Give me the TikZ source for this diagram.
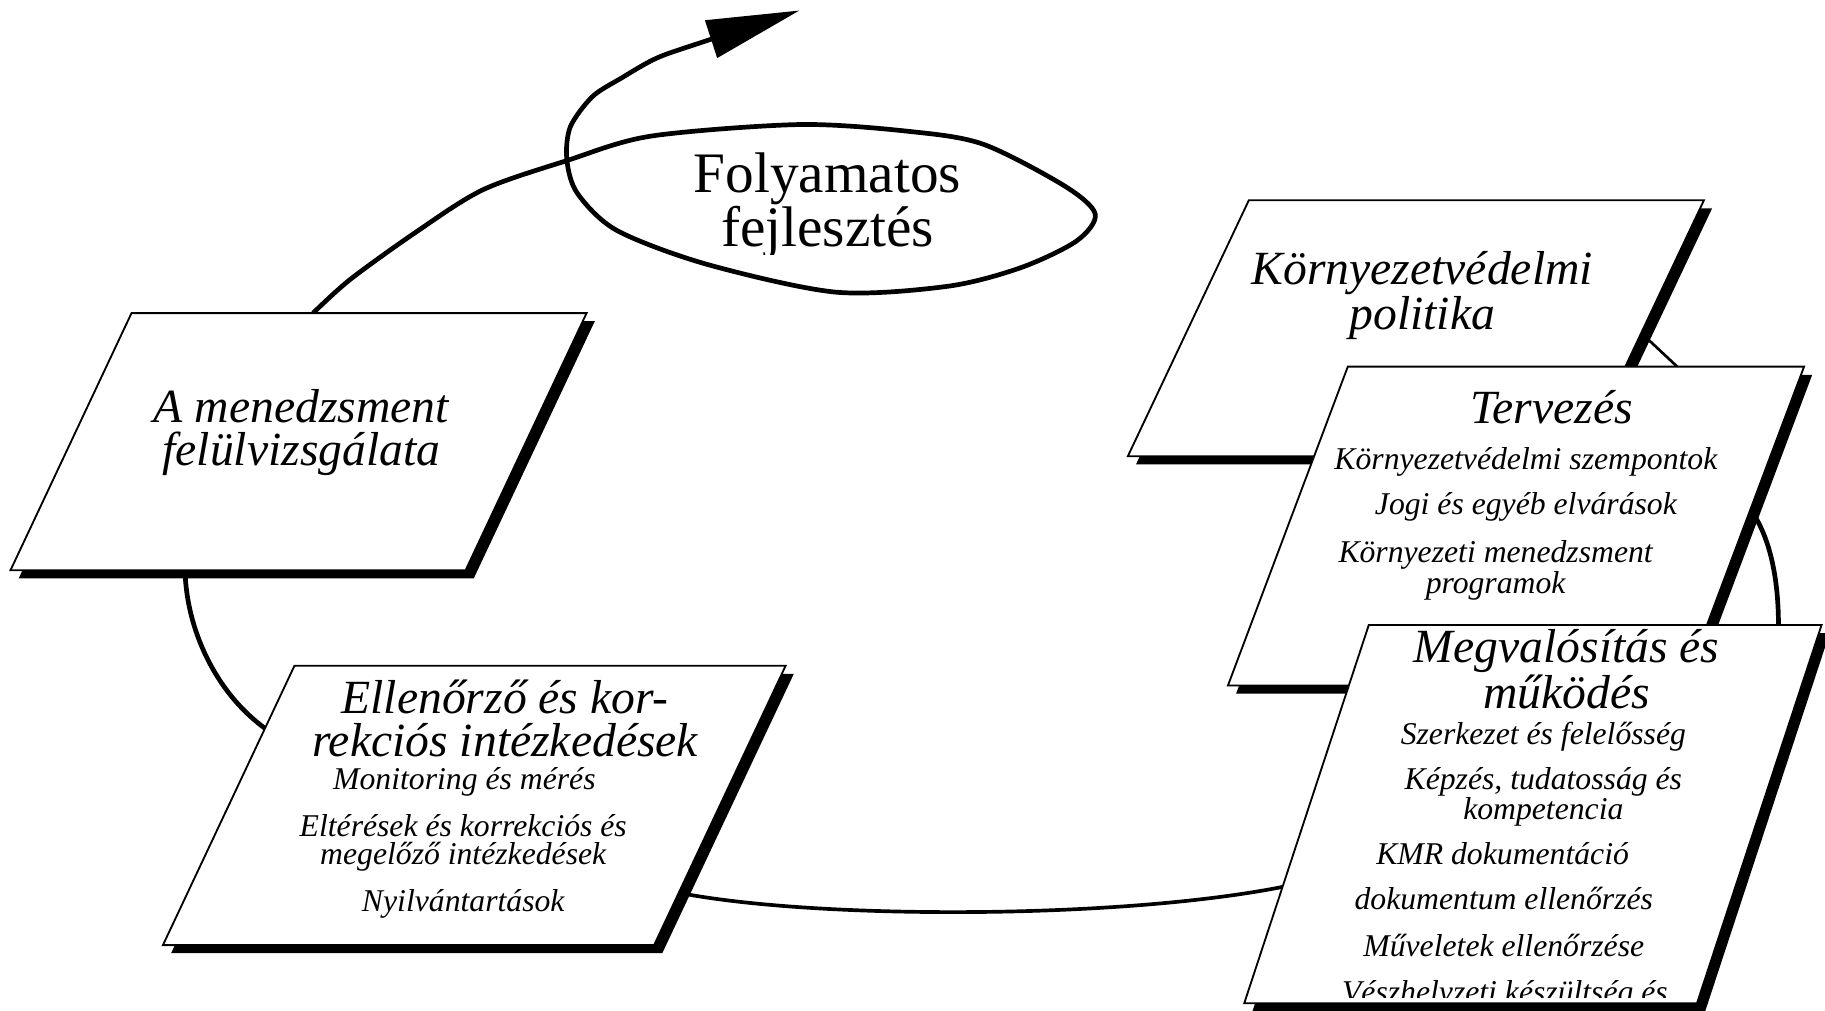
\documentclass[tikz,border=0pt]{standalone}
\usepackage{fontspec}
\setmainfont{Liberation Serif}
\usetikzlibrary{arrows.meta, calc}
\tikzset{%
  pbox/.style={draw=black, fill=white, line width=0.9pt, line join=miter},
  pshade/.style={fill=black},
  loopline/.style={line width=2.3pt},
  lowlink/.style={line width=1.8pt},
  thinlink/.style={line width=1.3pt},
  headtip/.style={-{Triangle[length=1.6cm, width=0.66cm]}},
  boxtitle/.style={font=\itshape\fontsize{23.3}{21}\selectfont, align=center, inner sep=0pt, anchor=base},
  boxitem/.style={font=\itshape\fontsize{15.5}{13.8}\selectfont, align=center, inner sep=0pt, anchor=base},
  elltext/.style={font=\fontsize{28}{26.4}\selectfont, align=center, inner sep=0pt, anchor=base}
}
% parallelogram with shadow: name, top left x, top y, width, height, slant
\newcommand{\pgram}[6]{%
  \fill[pshade] (#2+7,#3+7) -- (#2+#4+7,#3+7) -- (#2+#4-#6+7,#3+#5+7) -- (#2-#6+7,#3+#5+7) -- cycle;
  \draw[pbox] (#2,#3) -- (#2+#4,#3) -- (#2+#4-#6,#3+#5) -- (#2-#6,#3+#5) -- cycle;
  \coordinate (#1) at (#2+#4/2-#6/2,#3+#5/2);
}
\begin{document}
\begin{tikzpicture}[x=0.02cm, y=-0.02cm]
  \useasboundingbox (0,0) rectangle (1568,868);
  % link ends on the boxes
  \coordinate (mgmt-top) at (269,269);
  \coordinate (mgmt-bot) at (159,490);
  \coordinate (ctrl-left) at (228,626);
  \coordinate (ctrl-right) at (583,767);
  \coordinate (impl-left) at (1102,762);
  \coordinate (pol-right) at (1410,286);
  \coordinate (plan-top) at (1441,315);
  \coordinate (plan-right) at (1504,438);
  \coordinate (impl-top) at (1528,537);
  \coordinate (arrowtip) at (687,9);

  % spiral round the ellipse
  \draw[loopline, headtip] plot[smooth, tension=0.5] coordinates {
    (mgmt-top) (301,240) (358,199) (415,163) (487,138) (559,117) (687,107)
    (782,113) (845,124) (915,160) (941,184) (925,207) (877,230) (814,246)
    (718,251) (607,227) (530,198) (496,166) (487,137)
    (490,109) (509,83) (534,67) (564,50) (601,37) (arrowtip)};
  \draw[loopline] (mgmt-bot) .. controls (160,540) and (185,595) .. (ctrl-left);
  \draw[lowlink] (ctrl-right) .. controls (700,790) and (960,790) .. (impl-left);
  \draw[thinlink] (pol-right) -- (plan-top);
  \draw[loopline] (plan-right) .. controls (1520,460) and (1528,495) .. (impl-top);

  % boxes
  \pgram{mgmt}{113}{269}{391}{221}{104}
  \pgram{ctrl}{253}{572}{422}{240}{113}
  \pgram{pol}{1073}{172}{391}{220}{104}
  \pgram{plan}{1158}{315}{392}{274}{103}
  \pgram{impl}{1176}{537}{389}{325}{107}

  \begin{scope}
    \clip (560,100) rectangle (880,219);
    \node[elltext] (folytxt) at (711,212) {Folyamatos\\fejlesztés};
  \end{scope}

  \node[boxtitle] (mgmt-title) at (259,400) {A menedzsment\\felülvizsgálata};

  \node[boxtitle] (pol-title) at (1222,283.5) {Környezetvédelmi\\politika};

  \node[boxtitle] (plan-title) at (1333,363.7) {Tervezés};
  \node[boxitem] (plan-a) at (1311,403.8) {Környezetvédelmi szempontok};
  \node[boxitem] (plan-b) at (1311,442.4) {Jogi és egyéb elvárások};
  \node[boxitem] (plan-c) at (1285,509.7) {Környezeti menedzsment\\programok};

  \node[boxtitle, font=\itshape\fontsize{23.3}{18.8}\selectfont] (impl-title) at (1346,608.5) {Megvalósítás és\\működés};
  \node[boxitem] (impl-a) at (1326,640) {Szerkezet és felelősség};
  \node[boxitem] (impl-b) at (1326,704.5) {Képzés, tudatosság és\\kompetencia};
  \node[boxitem] (impl-c) at (1291,743) {KMR dokumentáció};
  \node[boxitem] (impl-d) at (1292,781.8) {dokumentum ellenőrzés};
  \node[boxitem] (impl-e) at (1292,821.9) {Műveletek ellenőrzése};
  \begin{scope}
    \clip (1100,830) rectangle (1500,857);
    \node[boxitem] (impl-f) at (1293,861) {Vészhelyzeti készültség és};
  \end{scope}

  \node[boxtitle] (ctrl-title) at (434,650) {Ellenőrző és kor-\\rekciós intézkedések};
  \node[boxitem] (ctrl-a) at (399,678.7) {Monitoring és mérés};
  \node[boxitem] (ctrl-b) at (398,743.1) {Eltérések és korrekciós és\\megelőző intézkedések};
  \node[boxitem] (ctrl-c) at (398,783.2) {Nyilvántartások};
\end{tikzpicture}
\end{document}
